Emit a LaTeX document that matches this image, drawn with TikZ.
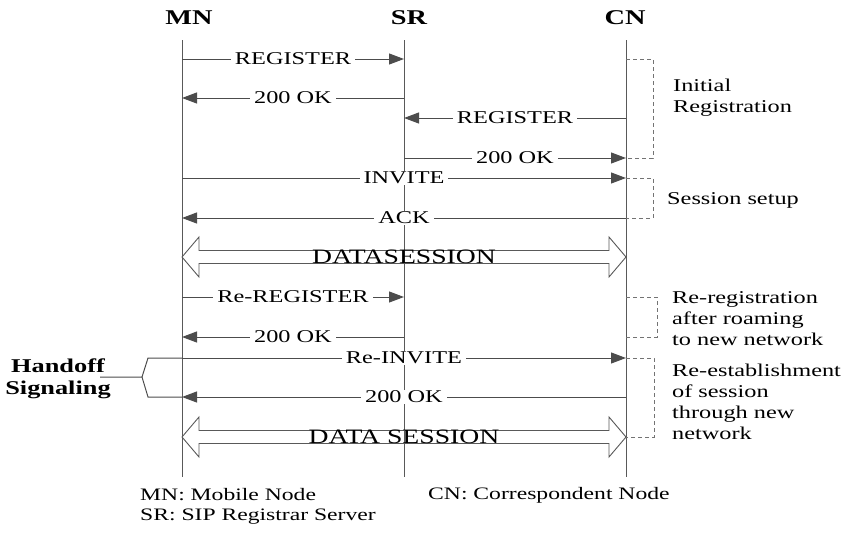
\documentclass[tikz,border=0pt]{standalone}
\usepackage{fontspec}
\setmainfont{Liberation Serif}[FakeStretch=1.35]
\usetikzlibrary{arrows.meta}
\begin{document}
\begin{tikzpicture}[x=1pt,y=-1pt,
  life/.style={draw=black!65, line width=1pt},
  plain/.style={draw=black!70, line width=1pt},
  msg/.style={draw=black!70, line width=1pt, -{Triangle[length=15pt,width=11pt]}},
  lbl/.style={fill=white, inner xsep=4pt, inner ysep=1pt, font=\fontsize{18}{21}\selectfont, text=black},
  brk/.style={draw=black!55, line width=0.9pt, dash pattern=on 4pt off 3pt},
  note/.style={anchor=west, align=left, font=\fontsize{18}{21}\selectfont, inner sep=0pt, text=black},
  headlbl/.style={font=\fontsize{21}{23}\selectfont\bfseries},
  legend/.style={anchor=west, inner sep=0pt, font=\fontsize{17.5}{20}\selectfont, text=black},
  dbl/.style={draw=black!65, line width=0.9pt},
  dbltext/.style={font=\fontsize{20.5}{22}\selectfont, inner sep=0pt, text=black}
]
\useasboundingbox (0,0) rectangle (844,533);

% headers
\node[headlbl] (hMN) at (189,18) {MN};
\node[headlbl] (hSR) at (409,18) {SR};
\node[headlbl] (hCN) at (625,18) {CN};

% lifelines
\coordinate (MNt) at (182,40); \coordinate (MNb) at (182,477);
\coordinate (SRt) at (404,40); \coordinate (SRb) at (404,477);
\coordinate (CNt) at (626,40); \coordinate (CNb) at (626,477);
\draw[life] (MNt) -- (MNb);
\draw[life] (SRt) -- (SRb);
\draw[life] (CNt) -- (CNb);

% rows
\coordinate (r1) at (0,59);
\coordinate (r2) at (0,98);
\coordinate (r3) at (0,118);
\coordinate (r4) at (0,158);
\coordinate (r5) at (0,178);
\coordinate (r6) at (0,218);
\coordinate (r8) at (0,297);
\coordinate (r9) at (0,337);
\coordinate (r10) at (0,358);
\coordinate (r11) at (0,397);
\coordinate (r12) at (0,437);

% messages
\draw[msg] (MNt |- r1) -- node[lbl] {REGISTER} (SRt |- r1);
\draw[msg] (SRt |- r2) -- node[lbl] {200 OK} (MNt |- r2);
\draw[msg] (CNt |- r3) -- node[lbl] {REGISTER} (SRt |- r3);
\draw[msg] (SRt |- r4) -- node[lbl] {200 OK} (CNt |- r4);
\draw[msg] (MNt |- r5) -- node[lbl] {INVITE} (CNt |- r5);
\draw[msg] (CNt |- r6) -- node[lbl] {ACK} (MNt |- r6);

% data session 1
\begin{scope}[shift={(0,257)}]
  \draw[dbl] (182,0) -- (199,-20) -- (199,-6.5) -- (609,-6.5) -- (609,-20) -- (626,0)
             -- (609,20) -- (609,6.5) -- (199,6.5) -- (199,20) -- cycle;
  \node[dbltext] (ds1) at (404,0) {DATASESSION};
\end{scope}

\draw[msg] (MNt |- r8) -- node[lbl] {Re-REGISTER} (SRt |- r8);
\draw[msg] (SRt |- r9) -- node[lbl] {200 OK} (MNt |- r9);

% handoff
\coordinate (hoA) at (148,358);
\coordinate (hoB) at (148,397);
\coordinate (hoM) at (142,377);
\coordinate (hoE) at (100,377);
\node[align=center, inner sep=0pt, font=\fontsize{19.5}{22}\selectfont\bfseries] (ho) at (58,379) {Handoff\\Signaling};
\draw[plain] (hoE) -- (hoM) -- (hoA) -- (MNt |- r10);
\draw[plain] (hoM) -- (hoB) -- (MNt |- r11);
\draw[msg] (MNt |- r10) -- node[lbl] {Re-INVITE} (CNt |- r10);
\draw[msg] (CNt |- r11) -- node[lbl] {200 OK} (MNt |- r11);

% data session 2
\begin{scope}[shift={(0,437)}]
  \draw[dbl] (182,0) -- (199,-20) -- (199,-6.5) -- (609,-6.5) -- (609,-20) -- (626,0)
             -- (609,20) -- (609,6.5) -- (199,6.5) -- (199,20) -- cycle;
  \node[dbltext] (ds2) at (404,0) {DATA SESSION};
\end{scope}

% brackets
\draw[brk] (CNt |- r1) -- ++(27,0) |- (CNt |- r4);
\draw[brk] (CNt |- r5) -- ++(27,0) |- (CNt |- r6);
\draw[brk] (CNt |- r8) -- ++(31,0) |- (CNt |- r9);
\draw[brk] (CNt |- r10) -- ++(28,0) |- (CNt |- r12);

\node[note] (nInit) at (673,97.5) {Initial\\Registration};
\node[note] (nSess) at (667,200) {Session setup};
\node[note] (nRereg) at (672,319) {Re-registration\\after roaming\\to new network};
\node[note] (nReest) at (672,401.5) {Re-establishment\\of session\\through new\\network};

% legend
\node[legend] (lMN) at (140,495) {MN: Mobile Node};
\node[legend] (lSR) at (140,517) {SR: SIP Registrar Server};
\node[legend] (lCN) at (428,495) {CN: Correspondent Node};
\end{tikzpicture}
\end{document}
